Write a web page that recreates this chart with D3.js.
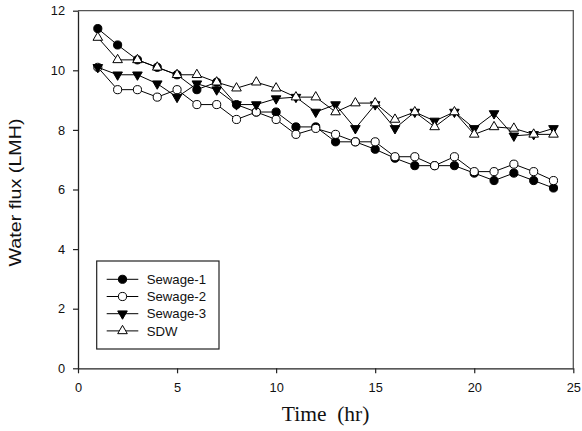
<!DOCTYPE html>
<html>
<head>
<meta charset="utf-8">
<script src="https://cdn.jsdelivr.net/npm/d3@7"></script>
<style>
  html, body { margin: 0; padding: 0; background: #fff; }
  svg { display: block; }
</style>
</head>
<body>
<svg id="chart" width="582" height="431"></svg>
<script>
const hours = [1,2,3,4,5,6,7,8,9,10,11,12,13,14,15,16,17,18,19,20,21,22,23,24];
const sewage1 = [11.4,10.85,10.35,10.1,9.85,9.35,9.6,8.85,8.6,8.6,8.1,8.1,7.6,7.6,7.35,7.05,6.8,6.8,6.8,6.55,6.3,6.55,6.3,6.05];
const sewage2 = [10.1,9.35,9.35,9.1,9.35,8.85,8.85,8.35,8.6,8.35,7.85,8.05,7.85,7.6,7.6,7.1,7.1,6.8,7.1,6.6,6.6,6.85,6.6,6.3];
const sewage3 = [10.1,9.85,9.85,9.55,9.1,9.55,9.35,8.85,8.85,9.05,9.1,8.6,8.85,8.05,8.85,8.05,8.6,8.3,8.6,8.05,8.55,7.8,7.85,8.05];
const sdw     = [11.1,10.35,10.35,10.1,9.85,9.85,9.6,9.4,9.6,9.4,9.1,9.1,8.6,8.9,8.9,8.35,8.6,8.1,8.6,7.85,8.1,8.05,7.85,7.85];
const seriesNames = ["Sewage-1","Sewage-2","Sewage-3","SDW"];
const xTicks = [0,5,10,15,20,25];
const yTicks = [0,2,4,6,8,10,12];

const series = [
  {name: seriesNames[0], values: sewage1, shape: "circle", fill: "#000"},
  {name: seriesNames[1], values: sewage2, shape: "circle", fill: "#fff"},
  {name: seriesNames[2], values: sewage3, shape: "down", fill: "#000"},
  {name: seriesNames[3], values: sdw, shape: "up", fill: "#fff"}
];

const svg = d3.select("#chart");
const mLeft = 78, mRight = 573.3, mTop = 10.7, mBottom = 368.3;
const x = d3.scaleLinear().domain([0,25]).range([mLeft,mRight]);
const y = d3.scaleLinear().domain([0,12]).range([mBottom,mTop]);

// frame (top and right)
svg.append("path")
  .attr("d", `M${mLeft},${mTop}H${mRight}V${mBottom}`)
  .attr("fill","none").attr("stroke","#555").attr("stroke-width",1.3);

const xAxis = svg.append("g").attr("transform",`translate(0,${mBottom})`)
  .call(d3.axisBottom(x).tickValues(xTicks).tickSize(5).tickPadding(10).tickSizeOuter(0));
const yAxis = svg.append("g").attr("transform",`translate(${mLeft},0)`)
  .call(d3.axisLeft(y).tickValues(yTicks).tickSize(5).tickPadding(8).tickSizeOuter(0));
[xAxis,yAxis].forEach(g=>{
  g.selectAll("path").attr("stroke","#222").attr("stroke-width",1.3);
  g.selectAll("line").attr("stroke","#222").attr("stroke-width",1.2);
  g.selectAll("text").attr("font-family","'Liberation Sans', Arial, sans-serif")
    .attr("font-size","12.8px").attr("fill","#111");
});

function symbolPath(shape){
  if(shape==="circle") return d3.symbol(d3.symbolCircle, 52)();
  return d3.symbol(d3.symbolTriangle, 40)();
}
function drawMarker(g, shape, fill, cx, cy){
  g.append("path")
    .attr("d", symbolPath(shape))
    .attr("transform", `translate(${cx},${cy})` + (shape==="down" ? " rotate(180)" : ""))
    .attr("fill", fill).attr("stroke","#000").attr("stroke-width",1);
}

const line = d3.line().x((d,i)=>x(hours[i])).y(d=>y(d));
series.forEach(s=>{
  const g = svg.append("g");
  g.append("path").attr("d", line(s.values)).attr("fill","none")
    .attr("stroke","#000").attr("stroke-width",1);
  s.values.forEach((v,i)=> drawMarker(g, s.shape, s.fill, x(hours[i]), y(v)));
});

// legend
const lg = svg.append("g");
lg.append("rect").attr("x",96.7).attr("y",261).attr("width",122.3).attr("height",88)
  .attr("fill","#fff").attr("stroke","#222").attr("stroke-width",1.2);
series.forEach((s,i)=>{
  const cy = 279.3 + i*17.2;
  lg.append("line").attr("x1",106.7).attr("x2",138.3).attr("y1",cy).attr("y2",cy)
    .attr("stroke","#000").attr("stroke-width",1);
  drawMarker(lg, s.shape, s.fill, 122.5, cy);
  lg.append("text").attr("x",146.7).attr("y",cy).attr("dy","0.36em")
    .attr("font-family","'Liberation Sans', Arial, sans-serif").attr("font-size","13.2px")
    .attr("fill","#111").text(s.name);
});

// axis titles
svg.append("text").attr("x",(mLeft+mRight)/2).attr("y",421)
  .attr("text-anchor","middle").attr("font-family","'Liberation Serif','Times New Roman',serif")
  .attr("font-size","21.5px").attr("fill","#111").attr("xml:space","preserve").text("Time  (hr)");
svg.append("text").attr("transform","translate(20.5,192.5) rotate(-90)")
  .attr("text-anchor","middle").attr("font-family","'Liberation Sans', Arial, sans-serif")
  .attr("font-size","16.5px").attr("fill","#111")
  .attr("textLength",148).attr("lengthAdjust","spacingAndGlyphs")
  .text("Water flux (LMH)");
</script>
</body>
</html>
